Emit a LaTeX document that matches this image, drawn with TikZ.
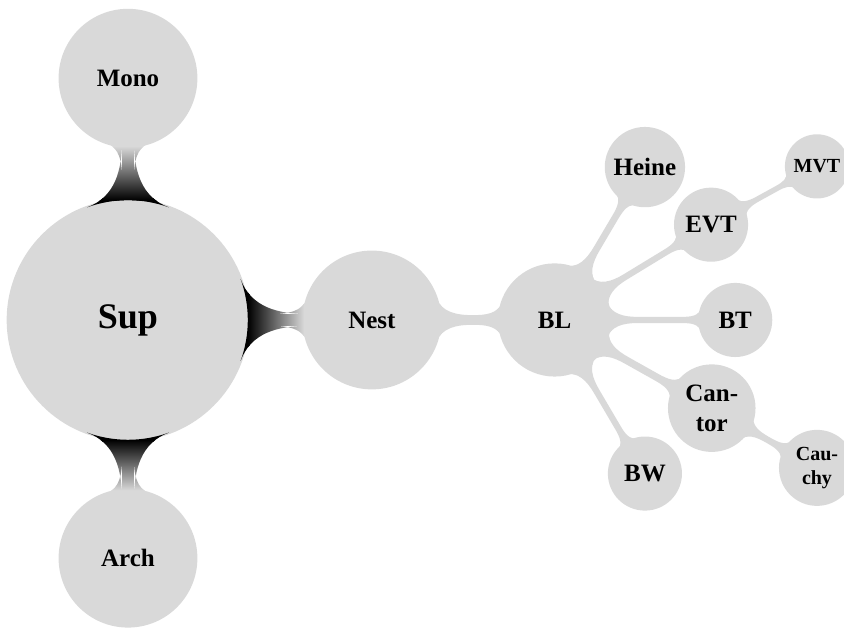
\documentclass[tikz,border=0pt]{standalone}
\usepackage{fontspec}
\setmainfont{Liberation Serif}
\usepackage{tikz}
\usetikzlibrary{mindmap}

\tikzset{
  topic/.style={concept, fill=gray!30, text=black, inner sep=2pt, text width=, align=center, font=\bfseries},
  rootlink/.style={circle connection bar switch color=from (black) to (gray!30)},
  link/.style={circle connection bar switch color=from (gray!30) to (gray!30)}
}

\begin{document}
\begin{tikzpicture}[mindmap, concept color=gray!30]
\useasboundingbox (-1.80,-4.36) rectangle (10.07,4.50);

\node [topic, minimum size=3.37cm, font=\Large\bfseries] (SUP) at (0,0) {Sup};
\node [topic, minimum size=1.91cm] (MONO) at (0,3.40) {Mono};
\node [topic, minimum size=1.91cm] (ARCH) at (0,-3.35) {Arch};
\node [topic, minimum size=1.91cm] (NEST) at (3.43,0) {Nest};
\node [topic, minimum size=1.55cm] (BL) at (6.0,0) {BL};
\node [topic, minimum size=1cm] (HEINE) at (7.27,2.15) {Heine};
\node [topic, minimum size=1cm] (EVT) at (8.20,1.34) {EVT};
\node [topic, minimum size=1cm] (BT) at (8.54,0) {BT};
\node [topic, minimum size=1cm] (CANTOR) at (8.21,-1.24) {Can-\\tor};
\node [topic, minimum size=1cm] (BW) at (7.27,-2.16) {BW};
\node [topic, minimum size=0.8cm, font=\footnotesize\bfseries] (MVT) at (9.69,2.16) {MVT};
\node [topic, minimum size=0.8cm, font=\footnotesize\bfseries] (CAUCHY) at (9.69,-2.08) {Cau-\\chy};

\path (SUP) to [rootlink] (MONO);
\path (SUP) to [rootlink] (NEST);
\path (SUP) to [rootlink] (ARCH);
\path (NEST) to [link] (BL);
\path (BL) to [link] (HEINE);
\path (BL) to [link] (EVT);
\path (BL) to [link] (BT);
\path (BL) to [link] (CANTOR);
\path (BL) to [link] (BW);
\path (EVT) to [link] (MVT);
\path (CANTOR) to [link] (CAUCHY);
\end{tikzpicture}
\end{document}
